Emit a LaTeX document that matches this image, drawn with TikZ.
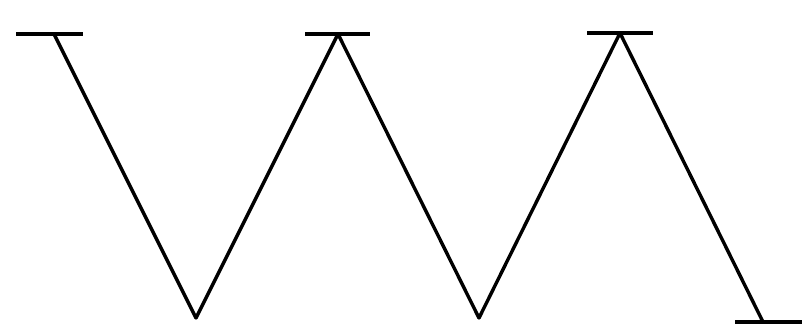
\documentclass[tikz,border=0pt]{standalone}
\begin{document}
\begin{tikzpicture}[x=1pt,y=-1pt,
  zig/.style={line width=3.4pt,line join=round,black},
  bar/.style={line width=3.6pt,black}]
\fill[white] (0,0) rectangle (804,332);
\useasboundingbox (0,0) rectangle (804,332);
\coordinate (a) at (54,34);
\coordinate (b) at (196,318);
\coordinate (c) at (338,34);
\coordinate (d) at (479,318);
\coordinate (e) at (620,33);
\coordinate (f) at (763,322);
\coordinate (a1) at (16,34);  \coordinate (a2) at (83,34);
\coordinate (c1) at (305,34); \coordinate (c2) at (370,34);
\coordinate (e1) at (587,33); \coordinate (e2) at (653,33);
\coordinate (f1) at (735,322); \coordinate (f2) at (802,322);
\draw[zig] (a) -- (b) -- (c) -- (d) -- (e) -- (f);
\draw[bar] (a1) -- (a2);
\draw[bar] (c1) -- (c2);
\draw[bar] (e1) -- (e2);
\draw[bar] (f1) -- (f2);
\end{tikzpicture}
\end{document}
